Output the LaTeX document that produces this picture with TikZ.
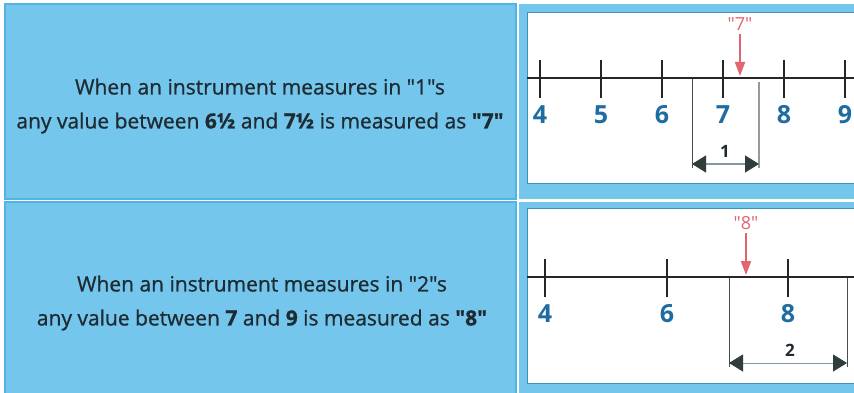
\documentclass[tikz,border=0pt]{standalone}
\usepackage{fontspec}
\newfontfamily\capfont{Open Sans}
\newfontfamily\capfontm{Open Sans}[FakeBold=0.9]
\usetikzlibrary{arrows.meta}
\definecolor{cellblue}{HTML}{74C6EC}
\definecolor{edgeblue}{HTML}{52B4E4}
\definecolor{numblue}{HTML}{1F6CA3}
\definecolor{markred}{HTML}{E2646E}
\definecolor{textdark}{HTML}{1E2B33}
\definecolor{tipdark}{HTML}{2F3D3C}
\definecolor{spanline}{HTML}{7F9AA6}
\begin{document}
\begin{tikzpicture}[x=1pt,y=-1pt,
  cell/.style={fill=cellblue,draw=edgeblue,line width=1.2pt},
  inner/.style={fill=white,draw=edgeblue!80!black,line width=0.8pt},
  caption/.style={font=\capfontm\fontsize{21}{34}\selectfont,align=center,text=textdark},
  axis/.style={line width=2pt,draw=black!85},
  tick/.style={line width=2.8pt,draw=black!85},
  numlab/.style={font=\capfont\bfseries\fontsize{25}{25}\selectfont,text=numblue,anchor=center},
  redlab/.style={font=\capfont\fontsize{18}{18}\selectfont,text=markred},
  redarrow/.style={draw=markred,line width=2pt,-{Triangle[width=10pt,length=14pt]}},
  brack/.style={draw=black!70,line width=1pt},
  brack2/.style={draw=black!40,line width=1.4pt},
  span/.style={draw=spanline,line width=1pt,{Triangle[width=17pt,length=14pt,fill=tipdark,color=tipdark]}-{Triangle[width=17pt,length=14pt,fill=tipdark,color=tipdark]}},
  spanlab/.style={font=\capfont\bfseries\fontsize{17}{17}\selectfont,text=textdark}]
\useasboundingbox (0,0) rectangle (854,393);
\clip (0,0) rectangle (854,393);
\fill[white] (0,0) rectangle (854,393);
% left cells
\draw[cell] (5,4) rectangle (516,199);
\draw[cell] (5,202) rectangle (516,395);
% right cells
\fill[cellblue] (519,4) rectangle (860,199);
\fill[cellblue] (519,202) rectangle (860,395);
\draw[inner] (527,12) rectangle (860,183);
\draw[inner] (527,208) rectangle (860,383);
% captions
\node[caption] (cap1) at (260,106) {When an instrument measures in "1"s\\any value between \textbf{6½} and \textbf{7½} is measured as \textbf{"7"}};
\node[caption] (cap2) at (262,303) {When an instrument measures in "2"s\\any value between \textbf{7} and \textbf{9} is measured as \textbf{"8"}};
% top number line
\coordinate (a1l) at (527,78);
\coordinate (a1r) at (860,78);
\draw[axis] (a1l) -- (a1r);
\foreach \n/\x in {4/540,5/601,6/662,7/723,8/784,9/845}{
  \draw[tick] (\x,60) -- (\x,98);
  \node[numlab] (t1n\n) at (\x,115) {\n};
}
\node[redlab] (r7) at (740,24) {"7"};
\coordinate (r7p) at (740,76);
\draw[redarrow] (r7) -- (r7p);
\coordinate (b1a) at (692,79);
\coordinate (b1b) at (692,168);
\coordinate (b1c) at (759,82);
\coordinate (b1d) at (759,168);
\draw[brack] (b1a) -- (b1b);
\draw[brack2] (b1c) -- (b1d);
\coordinate (s1a) at (692,164);
\coordinate (s1b) at (759,164);
\draw[span] (s1a) -- (s1b);
\node[spanlab] (l1) at (725,151) {1};
% bottom number line
\coordinate (a2l) at (527,277);
\coordinate (a2r) at (860,277);
\draw[axis] (a2l) -- (a2r);
\foreach \n/\x in {4/545,6/667,8/788}{
  \draw[tick] (\x,259) -- (\x,297);
  \node[numlab] (t2n\n) at (\x,314) {\n};
}
\node[redlab] (r8) at (746,223) {"8"};
\coordinate (r8p) at (746,275);
\draw[redarrow] (r8) -- (r8p);
\coordinate (b2a) at (729,278);
\coordinate (b2b) at (729,367);
\coordinate (b2c) at (847,278);
\coordinate (b2d) at (847,367);
\draw[brack] (b2a) -- (b2b);
\draw[brack] (b2c) -- (b2d);
\coordinate (s2a) at (729,363);
\coordinate (s2b) at (847,363);
\draw[span] (s2a) -- (s2b);
\node[spanlab] (l2) at (790,350) {2};
\end{tikzpicture}
\end{document}
